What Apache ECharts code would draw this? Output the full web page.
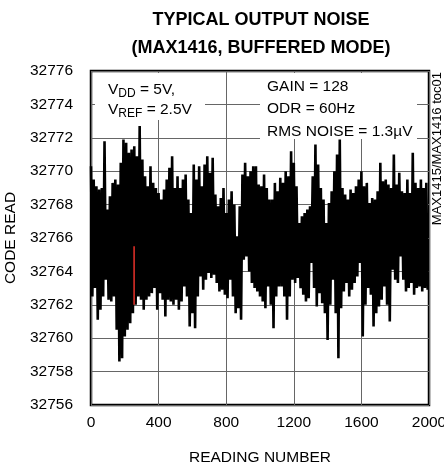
<!DOCTYPE html>
<html>
<head>
<meta charset="utf-8">
<script src="https://cdn.jsdelivr.net/npm/echarts@6/dist/echarts.min.js"></script>
<style>html,body{margin:0;padding:0;background:#fff}#c{width:444px;height:471px}</style>
</head>
<body>
<div id="c"></div>
<script>
// Readings are drawn as alternating local maxima / minima, one pair every 16 readings
const readingStep = 16;
const xTicks = [0, 400, 800, 1200, 1600, 2000];
const yTicks = [32756, 32758, 32760, 32762, 32764, 32766, 32768, 32770, 32772, 32774, 32776];
const hi = [
32770.3,32769.5,32769.1,32768.9,32769.0,32771.8,32767.7,32768.5,32769.3,32769.5,
32769.2,32770.5,32771.9,32771.7,32771.1,32771.3,32771.5,32770.9,32772.7,32770.7,
32769.7,32769.1,32770.3,32769.3,32769.0,32768.7,32768.3,32768.9,32769.5,32770.2,
32770.9,32769.0,32769.7,32769.0,32769.5,32769.8,32768.3,32767.5,32770.4,32769.5,
32770.3,32769.1,32770.4,32770.9,32769.9,32770.8,32768.6,32767.9,32768.4,32769.0,
32767.5,32768.3,32768.8,32768.0,32766.1,32767.9,32769.8,32770.5,32769.7,32770.0,
32770.3,32770.3,32769.2,32769.1,32769.8,32769.0,32768.3,32768.3,32769.3,32768.8,
32769.6,32769.3,32770.0,32769.7,32771.2,32770.5,32769.1,32766.9,32767.3,32767.5,
32767.7,32767.9,32769.7,32771.6,32770.4,32769.0,32768.3,32766.9,32768.1,32768.8,
32770.0,32771.0,32771.9,32769.0,32768.6,32768.3,32768.9,32768.7,32769.1,32769.5,
32770.0,32769.1,32769.3,32768.1,32768.4,32768.3,32768.8,32770.5,32769.4,32769.5,
32769.2,32769.0,32771.0,32769.2,32769.9,32768.8,32768.7,32769.5,32768.7,32771.1,
32769.3,32769.0,32769.5,32769.0,32769.3
];
const lo = [
32762.5,32763.0,32761.1,32761.7,32762.5,32763.5,32762.3,32762.2,32762.5,32760.5,
32758.6,32758.8,32760.1,32760.5,32760.9,32761.5,32762.0,32762.5,32762.3,32761.7,
32762.3,32762.5,32762.7,32763.0,32761.7,32762.7,32762.3,32761.3,32762.3,32762.2,
32762.0,32762.3,32761.7,32762.2,32763.1,32762.5,32760.7,32761.5,32760.6,32762.5,
32763.7,32762.9,32763.5,32763.9,32763.6,32763.8,32763.3,32762.8,32762.9,32762.6,
32762.4,32763.5,32762.5,32761.5,32761.8,32761.1,32764.7,32764.9,32764.0,32763.3,
32763.0,32762.8,32762.5,32762.2,32761.8,32763.1,32762.0,32760.6,32762.5,32763.1,
32763.1,32762.5,32761.1,32762.5,32763.5,32763.3,32763.6,32763.0,32762.6,32762.2,
32762.4,32764.5,32763.0,32761.9,32762.7,32762.1,32761.5,32759.9,32762.0,32763.5,
32761.5,32758.8,32761.8,32762.8,32763.3,32762.5,32762.9,32763.3,32763.7,32764.5,
32760.1,32762.0,32763.0,32762.6,32760.7,32761.5,32761.9,32762.3,32763.1,32762.0,
32761.0,32764.1,32763.5,32763.3,32764.9,32763.5,32762.8,32763.0,32763.3,32762.6,
32763.0,32763.1,32762.8,32763.0,32762.9
];
// highlighted (red) reading
const redReading = 255;
const redRange = [32765.5, 32762.0];

const noise = [];
for (let k = 0; k < hi.length; k++) {
  noise.push([k * readingStep, hi[k]]);
  noise.push([k * readingStep + readingStep / 2, lo[k]]);
}
const FONT = '"Liberation Sans", Arial, sans-serif';
const FS = 15.5;
const chart = echarts.init(document.getElementById('c'), null, {renderer: 'canvas'});
chart.setOption({
  animation: false,
  title: {
    text: 'TYPICAL OUTPUT NOISE\n(MAX1416, BUFFERED MODE)',
    left: 256, textAlign: 'center', top: 1,
    textStyle: {fontFamily: FONT, fontSize: 18, fontWeight: 'bold', color: '#000', lineHeight: 28}
  },
  grid: {left: 91, right: 15, top: 71, bottom: 66, show: true, borderColor: '#000', borderWidth: 2.5,
         backgroundColor: 'transparent', outerBoundsMode: 'none', containLabel: false},
  xAxis: {
    type: 'value', min: xTicks[0], max: xTicks[xTicks.length - 1], interval: 400,
    name: 'READING NUMBER', nameLocation: 'middle', nameGap: 45,
    nameTextStyle: {fontFamily: FONT, fontSize: FS, color: '#000'},
    axisLine: {show: false}, axisTick: {show: false},
    axisLabel: {fontFamily: FONT, fontSize: FS, color: '#000', margin: 10, formatter: v => String(v)},
    splitLine: {show: true, lineStyle: {color: '#666', width: 1}}
  },
  yAxis: {
    type: 'value', min: yTicks[0], max: yTicks[yTicks.length - 1], interval: 2,
    name: 'CODE READ', nameLocation: 'middle', nameGap: 68, nameRotate: 90,
    nameTextStyle: {fontFamily: FONT, fontSize: FS, color: '#000'},
    axisLine: {show: false}, axisTick: {show: false},
    axisLabel: {fontFamily: FONT, fontSize: FS, color: '#000', margin: 18, formatter: v => String(v)},
    splitLine: {show: true, lineStyle: {color: '#666', width: 1}}
  },
  graphic: [
    {type: 'rect', z: 1, shape: {x: 95, y: 73, width: 110, height: 47}, style: {fill: '#fff'}},
    {type: 'rect', z: 1, shape: {x: 260, y: 73, width: 157, height: 66}, style: {fill: '#fff'}},
    {type: 'text', z: 3, left: 108, top: 82, style: {
      text: '{n|V}{s|DD}{n| = 5V,}\n{n|V}{s|REF}{n| = 2.5V}',
      rich: {
        n: {fontFamily: FONT, fontSize: FS, lineHeight: 20, fill: '#000', verticalAlign: 'middle'},
        s: {fontFamily: FONT, fontSize: 12, lineHeight: 11, fill: '#000', verticalAlign: 'bottom'}
      }
    }},
    {type: 'text', z: 3, left: 267, top: 75, style: {
      text: 'GAIN = 128\nODR = 60Hz\nRMS NOISE = 1.3µV',
      fontFamily: FONT, fontSize: FS, lineHeight: 22.5, fill: '#000'
    }},
    {type: 'text', z: 3, left: 431, top: 72, rotation: Math.PI / 2, style: {
      text: 'MAX1415/MAX1416 toc01', fontFamily: FONT, fontSize: 13, fill: '#000'
    }}
  ],
  series: [
    {type: 'line', data: noise, symbol: 'none', z: 2, lineStyle: {color: '#000', width: 2.6}},
    {type: 'line', data: [[redReading, redRange[0]], [redReading, redRange[1]]], symbol: 'none', z: 3,
     lineStyle: {color: '#e8312a', width: 1.5}}
  ]
});
</script>
</body>
</html>
